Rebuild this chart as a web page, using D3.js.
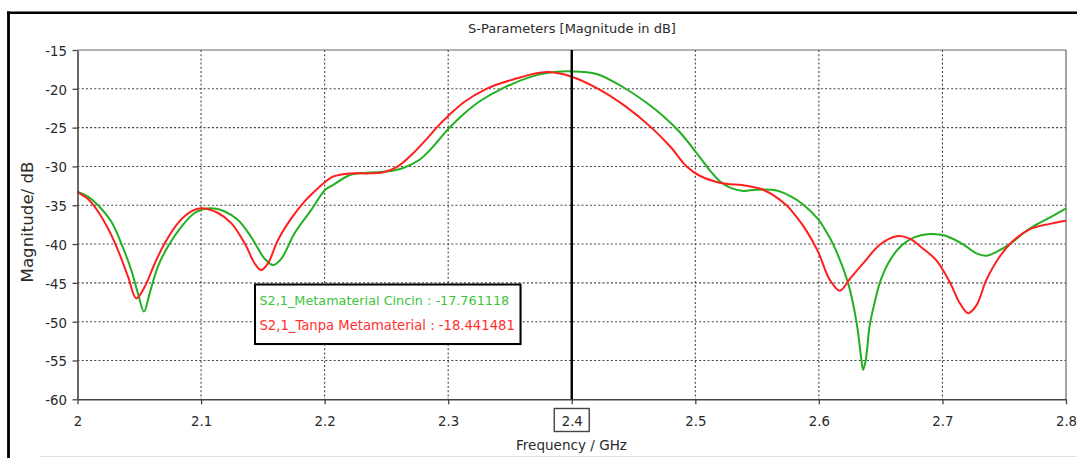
<!DOCTYPE html>
<html>
<head>
<meta charset="utf-8">
<script src="https://cdn.jsdelivr.net/npm/d3@7"></script>
<style>
  html, body { margin: 0; padding: 0; background: #fff; }
  svg { display: block; }
</style>
</head>
<body>
<svg id="chart" width="1077" height="458"></svg>
<script>
// ---------------- DATA ----------------
const chartTitle = "S-Parameters [Magnitude in dB]";
const xTitle = "Frequency / GHz";
const yTitle = "Magnitude/ dB";
const xTicks = [2, 2.1, 2.2, 2.3, 2.4, 2.5, 2.6, 2.7, 2.8];
const xTickLabels = ["2", "2.1", "2.2", "2.3", "2.4", "2.5", "2.6", "2.7", "2.8"];
const yTicks = [-15, -20, -25, -30, -35, -40, -45, -50, -55, -60];
const yTickLabels = ["-15", "-20", "-25", "-30", "-35", "-40", "-45", "-50", "-55", "-60"];
const markerFreq = 2.4;
const seriesNames = ["S2,1_Metamaterial Cincin", "S2,1_Tanpa Metamaterial"];
const markerValues = ["-17.761118", "-18.441481"];

const freqCincin = [2.0000,2.0085,2.0166,2.0273,2.0354,2.0435,2.0489,2.0538,2.0584,2.0651,2.0732,2.0840,2.0948,2.1070,2.1191,2.1299,2.1406,2.1515,2.1582,2.1649,2.1757,2.1892,2.2005,2.2067,2.2205,2.2340,2.2474,2.2528,2.2636,2.2771,2.2852,2.3000,2.3121,2.3256,2.3432,2.3661,2.3796,2.4000,2.4201,2.4416,2.4605,2.4739,2.4875,2.5036,2.5117,2.5198,2.5290,2.5387,2.5495,2.5657,2.5765,2.5872,2.5994,2.6056,2.6115,2.6236,2.6304,2.6345,2.6358,2.6379,2.6412,2.6452,2.6493,2.6557,2.6655,2.6776,2.6898,2.7019,2.7164,2.7275,2.7356,2.7437,2.7545,2.7706,2.7868,2.8000];
const magCincin  = [-33.25,-33.9,-35.0,-37.1,-39.9,-43.35,-46.35,-48.7,-46.35,-42.9,-40.3,-37.8,-36.0,-35.4,-35.8,-36.9,-39.1,-41.9,-42.7,-41.9,-38.6,-35.6,-33.0,-32.4,-31.1,-30.8,-30.7,-30.6,-30.2,-29.1,-27.9,-25.2,-23.3,-21.6,-20.0,-18.5,-17.95,-17.76,-18.1,-19.8,-21.8,-23.5,-25.6,-28.8,-30.5,-31.9,-32.8,-33.15,-33.0,-33.1,-33.8,-34.9,-36.8,-38.3,-40.0,-45.0,-50.0,-55.0,-56.2,-55.0,-50.4,-47.5,-45.0,-42.6,-40.4,-39.1,-38.7,-38.9,-40.0,-41.2,-41.5,-41.0,-40.0,-38.0,-36.6,-35.4];

const freqTanpa = [2.0000,2.0085,2.0166,2.0247,2.0328,2.0409,2.0476,2.0544,2.0625,2.0706,2.0813,2.0921,2.1002,2.1137,2.1244,2.1353,2.1434,2.1487,2.1541,2.1622,2.1730,2.1838,2.1946,2.2011,2.2070,2.2205,2.2340,2.2474,2.2583,2.2717,2.2852,2.2906,2.3000,2.3130,2.3310,2.3526,2.3796,2.4000,2.4214,2.4430,2.4645,2.4800,2.4930,2.5036,2.5198,2.5414,2.5549,2.5738,2.5819,2.5900,2.5994,2.6088,2.6169,2.6250,2.6358,2.6493,2.6628,2.6735,2.6843,2.6951,2.7059,2.7140,2.7207,2.7275,2.7356,2.7464,2.7571,2.7706,2.7868,2.8000];
const magTanpa  = [-33.3,-34.2,-35.8,-38.0,-40.8,-44.2,-47.0,-45.5,-42.5,-39.9,-37.3,-35.8,-35.4,-36.0,-37.3,-39.9,-42.5,-43.35,-42.5,-39.5,-36.7,-34.5,-32.8,-31.9,-31.3,-30.9,-30.9,-30.75,-30.1,-28.3,-26.0,-25.0,-23.5,-21.7,-20.0,-18.8,-17.85,-18.44,-20.0,-22.2,-25.0,-27.5,-30.0,-31.2,-32.1,-32.5,-33.0,-35.0,-36.5,-38.3,-41.0,-44.6,-46.0,-44.5,-42.5,-40.1,-39.0,-39.3,-40.6,-42.1,-44.9,-47.6,-48.9,-47.9,-44.6,-41.6,-39.6,-38.1,-37.4,-37.0];

// ---------------- STYLE / LAYOUT ----------------
const font = "DejaVu Sans";
const colCincin = "#22b022", colTanpa = "#ff1f1f";
const txtCincin = "#3cc43c", txtTanpa = "#ff3030";
const axisCol = "#2a2a2a";

const svg = d3.select("#chart");
const x = d3.scaleLinear().domain([2, 2.8]).range([77.5, 1066]);
const y = d3.scaleLinear().domain([-60, -15]).range([399.3, 50]);

function fit(sel, w) {
  const cur = sel.node().getComputedTextLength();
  const fs = parseFloat(sel.attr("font-size"));
  sel.attr("font-size", (fs * w / cur).toFixed(2));
  return sel;
}

// outer frame
svg.append("line").attr("x1", 8.5).attr("x2", 8.5).attr("y1", 11.5).attr("y2", 458)
  .attr("stroke", "#000").attr("stroke-width", 2.8);
svg.append("line").attr("x1", 7).attr("x2", 1077).attr("y1", 12.8).attr("y2", 12.8)
  .attr("stroke", "#000").attr("stroke-width", 2.6);
svg.append("line").attr("x1", 40).attr("x2", 1077).attr("y1", 456.5).attr("y2", 456.5)
  .attr("stroke", "#e2e2e2").attr("stroke-width", 1.2);

// title
fit(svg.append("text").attr("x", 572).attr("y", 33).attr("text-anchor", "middle")
  .attr("font-family", font).attr("font-size", 12).attr("fill", axisCol).text(chartTitle), 208);

// grid
const g = svg.append("g");
g.selectAll(".hg").data(yTicks.filter(v => v > -60 && v < -15)).join("line")
  .attr("x1", x(2)).attr("x2", x(2.8)).attr("y1", d => y(d)).attr("y2", d => y(d))
  .attr("stroke", "#444").attr("stroke-width", 1.1).attr("stroke-dasharray", "2,2.2");
g.selectAll(".vg").data(xTicks.filter(v => v > 2 && v < 2.8)).join("line")
  .attr("x1", d => x(d)).attr("x2", d => x(d)).attr("y1", y(-15)).attr("y2", y(-60))
  .attr("stroke", "#444").attr("stroke-width", 1.1).attr("stroke-dasharray", "2,2.2");

// top / right border
svg.append("line").attr("x1", x(2)).attr("x2", x(2.8)).attr("y1", y(-15)).attr("y2", y(-15))
  .attr("stroke", "#666").attr("stroke-width", 1.2);
svg.append("line").attr("x1", x(2.8)).attr("x2", x(2.8)).attr("y1", y(-15)).attr("y2", y(-60))
  .attr("stroke", "#666").attr("stroke-width", 1.2);

// curves
const line = d3.line().x(d => x(d[0])).y(d => y(d[1])).curve(d3.curveCatmullRom.alpha(0.5));
const dTanpa = freqTanpa.map((f, i) => [f, magTanpa[i]]);
const dCincin = freqCincin.map((f, i) => [f, magCincin[i]]);
svg.append("path").datum(dCincin).attr("d", line).attr("fill", "none")
  .attr("stroke", colCincin).attr("stroke-width", 2);
svg.append("path").datum(dTanpa).attr("d", line).attr("fill", "none")
  .attr("stroke", colTanpa).attr("stroke-width", 2);

// axes
const yAxis = svg.append("g").attr("transform", `translate(${x(2)},0)`)
  .call(d3.axisLeft(y).tickValues(yTicks).tickSize(5).tickSizeOuter(0).tickPadding(5.5)
    .tickFormat((d, i) => yTickLabels[i]));
const xAxis = svg.append("g").attr("transform", `translate(0,${y(-60)})`)
  .call(d3.axisBottom(x).tickValues(xTicks).tickSize(5).tickSizeOuter(0).tickPadding(12)
    .tickFormat((d, i) => xTickLabels[i]));
[yAxis, xAxis].forEach(a => {
  a.select(".domain").attr("stroke", "#444").attr("stroke-width", 1.6);
  a.selectAll(".tick line").attr("stroke", "#444").attr("stroke-width", 1.3);
  a.selectAll("text").attr("font-family", font).attr("font-size", 13.3).attr("fill", axisCol);
});
yAxis.selectAll("text").attr("dy", "0.4em");
xAxis.selectAll("text").attr("dy", "0.71em").attr("y", 17);

// marker line
svg.append("line").attr("x1", x(markerFreq)).attr("x2", x(markerFreq))
  .attr("y1", y(-15)).attr("y2", y(-60)).attr("stroke", "#000").attr("stroke-width", 2.4);
// box around marker tick label
svg.append("rect").attr("x", x(markerFreq) - 17.5).attr("y", 408.5).attr("width", 35).attr("height", 23)
  .attr("fill", "none").attr("stroke", "#444").attr("stroke-width", 1.4);

// axis titles
fit(svg.append("text").attr("x", 571.5).attr("y", 450).attr("text-anchor", "middle")
  .attr("font-family", font).attr("font-size", 13).attr("fill", axisCol).text(xTitle), 111);
fit(svg.append("text").attr("transform", "translate(33,222) rotate(-90)").attr("text-anchor", "middle")
  .attr("font-family", font).attr("font-size", 14).attr("fill", axisCol).text(yTitle), 121);

// legend box
const lg = svg.append("g");
lg.append("rect").attr("x", 256).attr("y", 285.5).attr("width", 266).attr("height", 60)
  .attr("fill", "#bbb").attr("opacity", 0.5);
lg.append("rect").attr("x", 255).attr("y", 284.5).attr("width", 265.5).attr("height", 59.5)
  .attr("fill", "#fff").attr("stroke", "#000").attr("stroke-width", 2);
fit(lg.append("text").attr("x", 259.5).attr("y", 305).attr("font-family", font).attr("font-size", 13)
  .attr("fill", txtCincin).text(seriesNames[0] + " : " + markerValues[0]), 250);
fit(lg.append("text").attr("x", 259.5).attr("y", 329.5).attr("font-family", font).attr("font-size", 13)
  .attr("fill", txtTanpa).text(seriesNames[1] + " : " + markerValues[1]), 255.5);
</script>
</body>
</html>
